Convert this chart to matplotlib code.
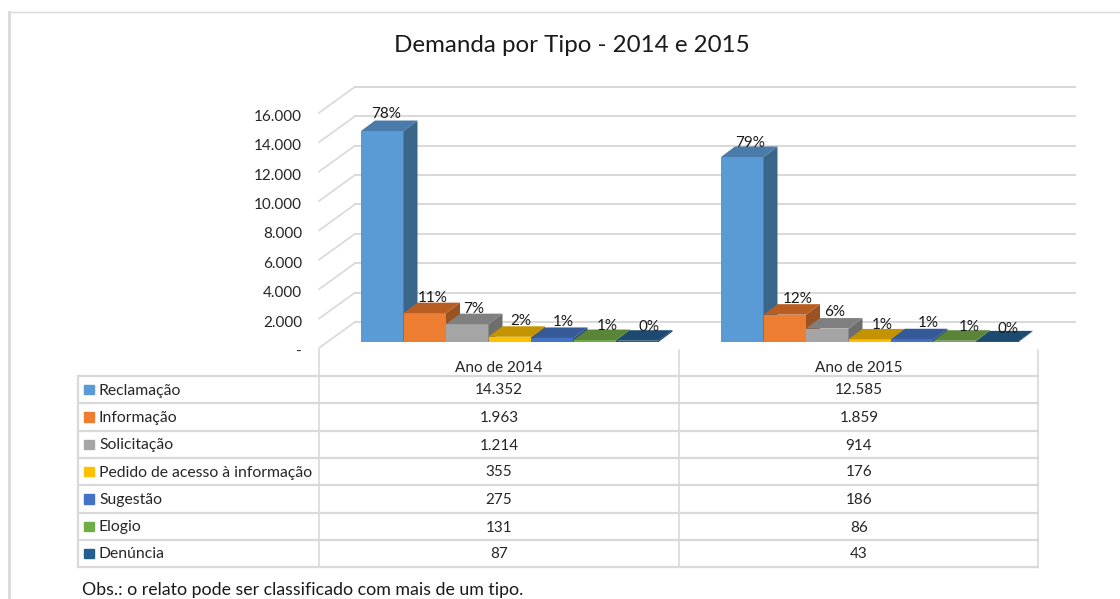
# Demanda por tipo - grafico de colunas com efeito 3D e tabela de dados
import matplotlib
matplotlib.use("Agg")
import matplotlib.pyplot as plt
from matplotlib.patches import Polygon, Rectangle

plt.rcParams["font.family"] = ["Lato", "DejaVu Sans"]

# Dados
tipos = ["Reclamação", "Informação", "Solicitação", "Pedido de acesso à informação",
         "Sugestão", "Elogio", "Denúncia"]
anos = ["Ano de 2014", "Ano de 2015"]
valores_2014 = [14352, 1963, 1214, 355, 275, 131, 87]
valores_2015 = [12585, 1859, 914, 176, 186, 86, 43]
pct_2014 = ["78%", "11%", "7%", "2%", "1%", "1%", "0%"]
pct_2015 = ["79%", "12%", "6%", "1%", "1%", "1%", "0%"]
ticks_y = [0, 2000, 4000, 6000, 8000, 10000, 12000, 14000, 16000]
ticks_txt = ["-", "2.000", "4.000", "6.000", "8.000", "10.000", "12.000", "14.000", "16.000"]

# Cores: frente, topo, lado
cor_frente = ["#5B9BD5", "#ED7D31", "#A5A5A5", "#FFC000", "#4472C4", "#70AD47", "#255E91"]
cor_topo = ["#4A7BAA", "#B85E22", "#808080", "#C49400", "#355A97", "#5A8538", "#1D4A70"]
cor_lado = ["#3A6689", "#9C5220", "#6E6E6E", "#9C7600", "#2B4A7C", "#4A6E2E", "#173C5C"]

# Deslocamento dos rotulos em pixels
rot_dx = [[4, 7.5, 6, 11.5, 10.7, 12.7, 11.5], [7.5, 12.7, 7, 12.6, 16, 14.7, 11]]
rot_dy = [[7, 5, 5, 5, 5, 4, 3], [4, 5, 6, 4, 6, 3, 2]]

W, H = 1120, 599
CINZA = "#D9D9D9"
fig = plt.figure(figsize=(W / 100, H / 100), dpi=100)

# Camada de fundo em pixels: moldura, tabela e textos
bg = fig.add_axes([0, 0, 1, 1])
bg.set_xlim(0, W)
bg.set_ylim(H, 0)
bg.axis("off")
bg.plot([9, 9], [12, H], color=CINZA, lw=2)
bg.plot([9, 1120], [12, 12], color=CINZA, lw=1)

linhas_tab = [376, 403, 431, 458, 485, 513, 540, 567]
for y in linhas_tab:
    bg.plot([78, 1038], [y, y], color=CINZA, lw=1.6)
bg.plot([78, 78], [376, 567], color=CINZA, lw=1.6)
for x in [319, 679, 1038]:
    bg.plot([x, x], [350, 567], color=CINZA, lw=1.2)

for i, ano in enumerate(anos):
    bg.text(499 + 360 * i, 368, ano, ha="center", va="center", fontsize=11, color="#262626")

for i, t in enumerate(tipos):
    yc = (linhas_tab[i] + linhas_tab[i + 1]) / 2
    bg.add_patch(Rectangle((84, yc - 5), 9.5, 9.5, color=cor_frente[i]))
    bg.text(99, yc + 1, t, ha="left", va="center", fontsize=11.3, color="#262626")
    bg.text(499, yc + 1, f"{valores_2014[i]:,}".replace(",", "."), ha="center", va="center",
            fontsize=11, color="#262626")
    bg.text(859, yc + 1, f"{valores_2015[i]:,}".replace(",", "."), ha="center", va="center",
            fontsize=11, color="#262626")

bg.text(572, 46, "Demanda por Tipo - 2014 e 2015", ha="center", va="center",
        fontsize=17.4, color="#1a1a1a")
bg.text(82, 590, "Obs.: o relato pode ser classificado com mais de um tipo.", ha="left",
        va="center", fontsize=12.8, color="#1a1a1a")

# Grafico: y=0 no pixel 342, 16000 a 235 px acima; cada grupo ocupa 360 px
PX_Y = 235.2 / 16000
PX_X = 360.0
ax = fig.add_axes([319 / W, 1 - 342 / H, 720 / W, 235.2 / H])
ax.set_xlim(0, 2)
ax.set_ylim(0, 16000)
ax.axis("off")
ax.patch.set_alpha(0)


def px(dx, dy=0):
    return dx / PX_X, dy / PX_Y


# Paredes: linhas do fundo e linhas laterais
fx, fy = px(36, 20)
ex, ey = px(0, -6)
for v in ticks_y:
    ax.plot([fx, px(756)[0]], [v + fy, v + fy], color=CINZA, lw=1.4, clip_on=False, zorder=1)
    ax.plot([0, fx], [v + ey, v + fy], color=CINZA, lw=1.2, clip_on=False, zorder=1)
    ax.annotate(ticks_txt[v // 2000], xy=(px(-17)[0], v + ey), xytext=(0, -4),
                textcoords="offset pixels", ha="right", va="center", fontsize=11,
                color="#262626", annotation_clip=False)

# Colunas
larg = 42.5 / PX_X
ini = 42 / PX_X
for g, (vals, pcts) in enumerate([(valores_2014, pct_2014), (valores_2015, pct_2015)]):
    for i, v in enumerate(vals):
        x0 = g + ini + i * larg
        x1 = x0 + larg
        dx, dy = px(14, 10.5)
        ax.bar(x0, v, width=larg, align="edge", color=cor_frente[i], zorder=3 + i)
        ax.add_patch(Polygon([(x1, 0), (x1 + dx, dy), (x1 + dx, v + dy), (x1, v)],
                             color=cor_lado[i], lw=0, zorder=3 + i, clip_on=False))
        ax.add_patch(Polygon([(x0, v), (x0 + dx, v + dy), (x1 + dx, v + dy), (x1, v)],
                             color=cor_topo[i], lw=0, zorder=3 + i, clip_on=False))
        ax.annotate(pcts[i], xy=(x0 + larg / 2, v + dy), xytext=(rot_dx[g][i], rot_dy[g][i]),
                    textcoords="offset pixels", ha="center", va="center", fontsize=11,
                    color="#1a1a1a", zorder=20, annotation_clip=False)

fig.savefig("out.png", dpi=100)
